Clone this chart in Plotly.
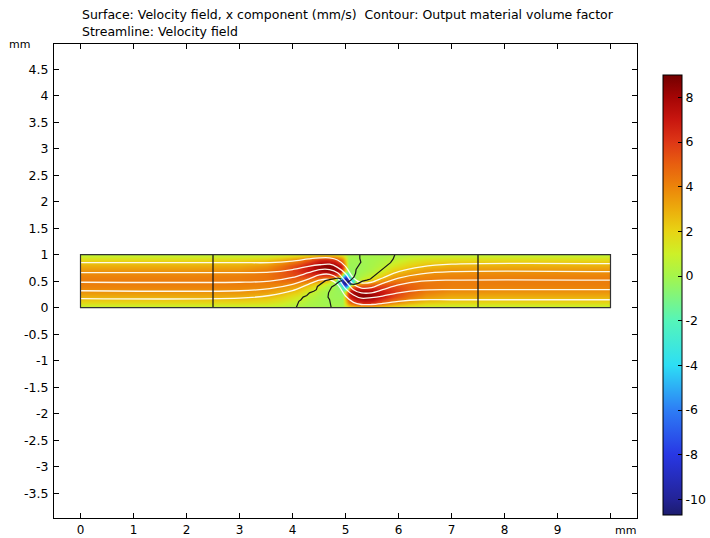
import numpy as np
import plotly.graph_objects as go

# ---------------- data ----------------
x_mm = [0, 1, 2, 3, 3.5, 3.8, 4.1, 4.3, 4.5, 4.65, 4.8, 4.9, 4.95, 5.0,
        5.05, 5.1, 5.2, 5.35, 5.5, 5.7, 5.9, 6.2, 6.5, 7, 8, 9, 10]
y_mm = [0, 0.1, 0.2, 0.3, 0.4, 0.45, 0.5, 0.55, 0.6, 0.7, 0.8, 0.9, 1.0]

# velocity field, x component (mm/s); one list per x column (bottom -> top)
u_x0 = [0.6, 1.8, 2.9, 3.6, 4.0, 4.15, 4.2, 4.15, 4.0, 3.6, 2.9, 1.8, 0.6]
u_x1 = [0.6, 1.8, 2.9, 3.6, 4.0, 4.15, 4.2, 4.15, 4.0, 3.6, 2.9, 1.8, 0.6]
u_x2 = [0.6, 1.8, 2.9, 3.6, 4.0, 4.15, 4.2, 4.15, 4.0, 3.6, 2.9, 1.8, 0.6]
u_x3 = [0.6, 1.8, 2.9, 3.6, 4.0, 4.15, 4.2, 4.2, 4.1, 3.7, 3.0, 1.9, 0.6]
u_x3_5 = [0.5, 1.6, 2.6, 3.4, 3.9, 4.1, 4.3, 4.4, 4.4, 4.2, 3.5, 2.2, 0.7]
u_x3_8 = [0.4, 1.2, 2.1, 2.9, 3.7, 4.1, 4.5, 4.8, 5.0, 5.0, 4.4, 2.9, 0.9]
u_x4_1 = [0.1, 0.6, 1.3, 2.2, 3.2, 3.8, 4.5, 5.1, 5.6, 6.1, 5.7, 3.9, 1.2]
u_x4_3 = [0.0, 0.2, 0.5, 1.1, 2.2, 3.0, 4.0, 5.0, 5.9, 7.0, 7.0, 5.0, 1.5]
u_x4_5 = [0.0, 0.0, 0.1, 0.3, 1.0, 1.8, 3.1, 4.5, 5.9, 7.8, 8.2, 6.4, 1.9]
u_x4_65 = [0.0, -0.1, -0.1, 0.0, 0.4, 1.0, 2.2, 4.0, 5.8, 8.2, 8.6, 6.6, 2.0]
u_x4_8 = [0.0, -0.1, -0.2, -0.2, -0.1, 0.0, 0.4, 2.6, 5.8, 8.3, 8.2, 6.0, 1.8]
u_x4_9 = [0.0, -0.1, -0.2, -0.3, -0.8, -2.5, -5.5, -3.5, 4.0, 7.6, 7.0, 4.8, 1.4]
u_x4_95 = [0.0, -0.1, -0.2, -0.6, -3.0, -8.5, -9.8, -7.0, -1.5, 6.0, 6.0, 4.0, 1.2]
u_x5 = [0.6, 2.0, 3.0, 1.5, -6.0, -10.3, -10.7, -10.3, -6.0, 1.5, 3.0, 2.0, 0.6]
u_x5_05 = [1.2, 4.0, 6.0, 6.0, -1.5, -7.0, -9.8, -8.5, -3.0, -0.6, -0.2, -0.1, 0.0]
u_x5_1 = [1.4, 4.8, 7.0, 7.6, 4.0, -3.5, -5.5, -2.5, -0.8, -0.3, -0.2, -0.1, 0.0]
u_x5_2 = [1.8, 6.0, 8.2, 8.3, 5.8, 2.6, 0.4, 0.0, -0.1, -0.2, -0.2, -0.1, 0.0]
u_x5_35 = [2.0, 6.6, 8.6, 8.2, 5.8, 4.0, 2.2, 1.0, 0.4, 0.0, -0.1, -0.1, 0.0]
u_x5_5 = [1.9, 6.4, 8.2, 7.8, 5.9, 4.5, 3.1, 1.8, 1.0, 0.3, 0.1, 0.0, 0.0]
u_x5_7 = [1.5, 5.0, 7.0, 7.0, 5.9, 5.0, 4.0, 3.0, 2.2, 1.1, 0.5, 0.2, 0.0]
u_x5_9 = [1.2, 3.9, 5.7, 6.1, 5.6, 5.1, 4.5, 3.8, 3.2, 2.2, 1.3, 0.6, 0.1]
u_x6_2 = [0.9, 2.9, 4.4, 5.0, 5.0, 4.8, 4.5, 4.1, 3.7, 2.9, 2.1, 1.2, 0.4]
u_x6_5 = [0.7, 2.2, 3.5, 4.2, 4.4, 4.4, 4.3, 4.1, 3.9, 3.4, 2.6, 1.6, 0.5]
u_x7 = [0.6, 1.9, 3.0, 3.7, 4.1, 4.2, 4.2, 4.15, 4.0, 3.6, 2.9, 1.8, 0.6]
u_x8 = [0.6, 1.8, 2.9, 3.6, 4.0, 4.15, 4.2, 4.15, 4.0, 3.6, 2.9, 1.8, 0.6]
u_x9 = [0.6, 1.8, 2.9, 3.6, 4.0, 4.15, 4.2, 4.15, 4.0, 3.6, 2.9, 1.8, 0.6]
u_x10 = [0.6, 1.8, 2.9, 3.6, 4.0, 4.15, 4.2, 4.15, 4.0, 3.6, 2.9, 1.8, 0.6]

u_columns = [u_x0, u_x1, u_x2, u_x3, u_x3_5, u_x3_8, u_x4_1, u_x4_3, u_x4_5,
             u_x4_65, u_x4_8, u_x4_9, u_x4_95, u_x5, u_x5_05, u_x5_1, u_x5_2,
             u_x5_35, u_x5_5, u_x5_7, u_x5_9, u_x6_2, u_x6_5, u_x7, u_x8,
             u_x9, u_x10]

u_min, u_max = -10.7, 9.0

# streamlines (velocity field)
stream_a_x = [0, 3, 3.57, 4, 4.3, 4.51, 4.7, 4.85, 5, 5.15, 5.3, 5.49, 5.7, 6, 6.43, 7, 10]
stream_a_y = [.85, .85, .85, .88, .92, .94, .94, .90, .78, .56, .47, .48, .56, .68, .77, .82, .83]
stream_b_x = [0, 3, 3.57, 4, 4.3, 4.51, 4.7, 4.85, 5, 5.15, 5.3, 5.49, 5.7, 6, 6.43, 7, 10]
stream_b_y = [.66, .66, .67, .72, .78, .81, .82, .76, .64, .44, .37, .38, .46, .56, .64, .68, .68]
stream_c_x = [0, 3, 3.57, 4, 4.3, 4.51, 4.7, 4.85, 5, 5.15, 5.3, 5.49, 5.7, 6, 6.43, 7, 10]
stream_c_y = [.48, .48, .50, .57, .66, .72, .72, .66, .50, .34, .28, .28, .34, .43, .50, .52, .52]
stream_d_x = [0, 3, 3.57, 4, 4.3, 4.51, 4.7, 4.85, 5, 5.15, 5.3, 5.49, 5.7, 6, 6.43, 7, 10]
stream_d_y = [.32, .32, .36, .44, .54, .62, .63, .56, .36, .24, .18, .19, .22, .28, .33, .34, .34]
stream_e_x = [0, 3, 3.57, 4, 4.3, 4.51, 4.7, 4.85, 5, 5.15, 5.3, 5.49, 5.7, 6, 6.43, 7, 10]
stream_e_y = [.17, .18, .23, .32, .44, .52, .53, .44, .22, .10, .06, .06, .08, .12, .15, .15, .15]

# contour: output material volume factor
interface_x = [2.5, 7.5]
lobe1_x = [4.07, 4.09, 4.12, 4.16, 4.2, 4.27, 4.32, 4.4, 4.45, 4.47, 4.52, 4.58, 4.62, 4.7, 4.79, 4.86, 4.92]
lobe1_y = [0.0, 0.06, 0.12, 0.15, 0.2, 0.23, 0.28, 0.31, 0.34, 0.4, 0.44, 0.47, 0.51, 0.53, 0.55, 0.56, 0.54]
lobe2_x = [4.73, 4.72, 4.70, 4.67, 4.68, 4.71, 4.74, 4.8, 4.84, 4.89, 4.94]
lobe2_y = [0.0, 0.07, 0.15, 0.2, 0.28, 0.34, 0.39, 0.43, 0.46, 0.5, 0.51]
lobe3_x = [5.27, 5.27, 5.29, 5.24, 5.2, 5.19, 5.16, 5.1, 5.04]
lobe3_y = [1.0, 0.93, 0.86, 0.79, 0.72, 0.65, 0.58, 0.52, 0.48]
lobe4_x = [5.93, 5.9, 5.85, 5.79, 5.72, 5.66, 5.58, 5.54, 5.47, 5.4, 5.32, 5.24, 5.16, 5.08]
lobe4_y = [1.0, 0.92, 0.85, 0.8, 0.74, 0.68, 0.63, 0.58, 0.54, 0.52, 0.5, 0.46, 0.44, 0.45]

channel_x = [0, 10]
channel_y = [0, 1]

x_tick_vals = [0, 1, 2, 3, 4, 5, 6, 7, 8, 9, 10]
x_tick_text = ["0", "1", "2", "3", "4", "5", "6", "7", "8", "9", ""]
y_tick_vals = [-3.5, -3, -2.5, -2, -1.5, -1, -0.5, 0, 0.5, 1, 1.5, 2, 2.5, 3, 3.5, 4, 4.5]
y_tick_text = ["-3.5", "-3", "-2.5", "-2", "-1.5", "-1", "-0.5", "0", "0.5", "1",
               "1.5", "2", "2.5", "3", "3.5", "4", "4.5"]
cb_tick_vals = [-10, -8, -6, -4, -2, 0, 2, 4, 6, 8]
cb_tick_text = ["-10", "-8", "-6", "-4", "-2", "0", "2", "4", "6", "8"]

# colour map anchors (value, colour)
cmap_vals = [-10.7, -10, -8, -6, -4, -2, 0, 1, 2, 3, 4, 5, 6, 7, 8, 9.0]
cmap_cols = ["rgb(28,28,110)", "rgb(35,35,150)", "rgb(40,55,228)", "rgb(45,125,245)",
             "rgb(45,222,245)", "rgb(85,245,185)", "rgb(165,245,75)", "rgb(205,240,40)",
             "rgb(232,212,20)", "rgb(236,172,12)", "rgb(236,132,10)", "rgb(232,95,15)",
             "rgb(222,55,22)", "rgb(200,22,15)", "rgb(165,5,5)", "rgb(115,0,0)"]

# ---------------- figure ----------------
FONT = "DejaVu Sans"
colorscale = [[(v - u_min) / (u_max - u_min), c] for v, c in zip(cmap_vals, cmap_cols)]
z = np.array(u_columns).T

fig = go.Figure()
fig.add_trace(go.Contour(
    x=x_mm, y=y_mm, z=z, zmin=u_min, zmax=u_max, colorscale=colorscale,
    contours=dict(coloring="heatmap", showlines=False),
    line=dict(width=0), ncontours=40,
    colorbar=dict(
        x=1.045, xanchor="left", y=0.0063, yanchor="bottom",
        len=0.928, lenmode="fraction", thickness=19, thicknessmode="pixels",
        xpad=0, ypad=0, outlinewidth=1, outlinecolor="black",
        tickvals=cb_tick_vals, ticktext=cb_tick_text, ticks="inside",
        ticklen=4, tickcolor="black", tickfont=dict(family=FONT, size=12.5, color="black"),
    ),
    hoverinfo="skip",
))

for sx, sy in [(stream_a_x, stream_a_y), (stream_b_x, stream_b_y), (stream_c_x, stream_c_y),
               (stream_d_x, stream_d_y), (stream_e_x, stream_e_y)]:
    fig.add_trace(go.Scatter(x=sx, y=sy, mode="lines",
                             line=dict(color="rgba(255,255,245,0.95)", width=1.3,
                                       shape="spline", smoothing=0.9),
                             hoverinfo="skip", showlegend=False))

for lx, ly in [(lobe1_x, lobe1_y), (lobe2_x, lobe2_y), (lobe3_x, lobe3_y), (lobe4_x, lobe4_y)]:
    fig.add_trace(go.Scatter(x=lx, y=ly, mode="lines",
                             line=dict(color="rgb(25,25,25)", width=1.2),
                             hoverinfo="skip", showlegend=False))

for ix in interface_x:
    fig.add_shape(type="line", x0=ix, x1=ix, y0=channel_y[0], y1=channel_y[1],
                  line=dict(color="rgb(25,25,25)", width=1.3))

fig.add_shape(type="rect", x0=channel_x[0], x1=channel_x[1], y0=channel_y[0], y1=channel_y[1],
              line=dict(color="rgb(50,50,50)", width=1.2))

axis_common = dict(showgrid=False, zeroline=False, showline=True, linecolor="black",
                   linewidth=1, mirror="ticks", ticks="inside", ticklen=5,
                   tickcolor="black")

fig.update_layout(
    width=710, height=538,
    margin=dict(l=54, r=73, t=44, b=20, autoexpand=False),
    paper_bgcolor="white", plot_bgcolor="white",
    showlegend=False,
    font=dict(family=FONT, size=12, color="black"),
    xaxis=dict(range=[-0.5, 10.5], tickvals=x_tick_vals, ticktext=x_tick_text,
               ticklabelstandoff=1, tickfont=dict(family=FONT, size=12, color="black"),
               **axis_common),
    yaxis=dict(range=[-3.968, 4.975], tickvals=y_tick_vals, ticktext=y_tick_text,
               ticklabelstandoff=2, tickfont=dict(family=FONT, size=12.5, color="black"),
               **axis_common),
    annotations=[
        dict(text="Surface: Velocity field, x component (mm/s)  Contour: Output material volume factor",
             xref="paper", yref="paper", x=0.0446, y=1.0612, xanchor="left", yanchor="middle",
             showarrow=False, font=dict(family=FONT, size=12.5, color="black")),
        dict(text="Streamline: Velocity field",
             xref="paper", yref="paper", x=0.0446, y=1.0274, xanchor="left", yanchor="middle",
             showarrow=False, font=dict(family=FONT, size=12.5, color="black")),
        dict(text="mm", xref="paper", yref="paper", x=-0.06, y=1.0, xanchor="center",
             yanchor="middle", showarrow=False, font=dict(family=FONT, size=11, color="black")),
        dict(text="mm", xref="paper", yref="paper", x=0.981, y=-0.027, xanchor="center",
             yanchor="middle", showarrow=False, font=dict(family=FONT, size=11, color="black")),
    ],
)

fig.write_html("out.html")
